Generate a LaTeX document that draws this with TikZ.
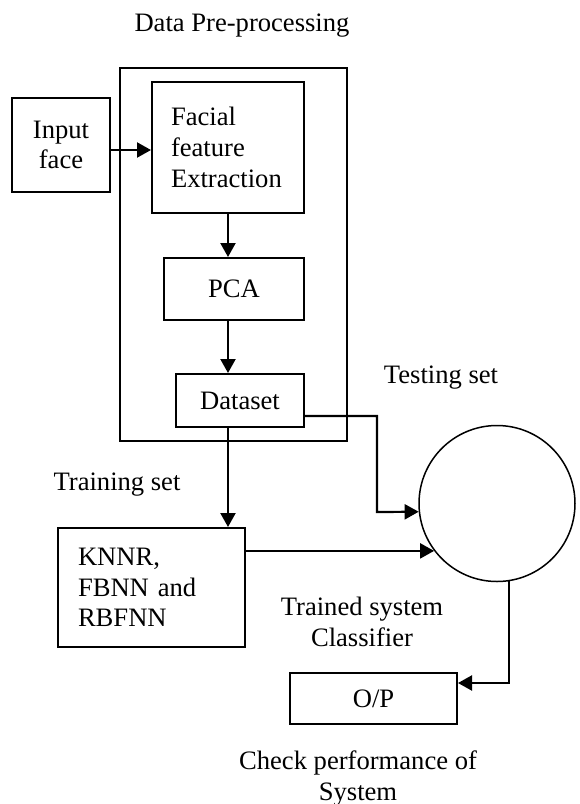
\documentclass[tikz,border=0pt]{standalone}
\usepackage{fontspec}
\setmainfont{Liberation Serif}
\usepackage{tikz}
\usetikzlibrary{arrows.meta}

\begin{document}
\begin{tikzpicture}[x=0.5pt, y=-0.5pt,
    font=\fontsize{13.3}{15.4}\selectfont,
    box/.style={draw, line width=1pt, inner sep=0pt},
    arrow/.style={-{Triangle[length=7pt,width=7.5pt]}, line width=1.1pt},
    lbl/.style={anchor=base, align=center, inner sep=0pt}]
    \useasboundingbox (0,0) rectangle (579,804);
    \node[box, minimum width=113.5pt, minimum height=186.5pt] (pre) at (233.5,254.5) {};
    \node[box, minimum width=49pt, minimum height=47pt, align=center] (inp) at (61,145) {Input\\face};
    \node[box, minimum width=76pt, minimum height=65.5pt, text width=57pt, inner xsep=9.5pt, align=left] (fe) at (228,147.5) {Facial\\feature\\Extraction};
    \node[box, minimum width=70pt, minimum height=31pt] (pca) at (234,289) {PCA};
    \node[box, minimum width=64pt, minimum height=26.5pt] (ds) at (240,400.5) {Dataset};
    \node[box, minimum width=93.5pt, minimum height=59.5pt, text width=73.5pt, inner xsep=10pt, align=left] (knn) at (151.5,587.5) {KNNR,\\FBNN and\\RBFNN};
    \node[box, minimum width=83.5pt, minimum height=25.5pt] (op) at (373.5,698.5) {O/P};
    \node[draw, circle, line width=0.75pt, minimum size=78pt, inner sep=0pt] (clf) at (497,503.5) {};
    \coordinate (tbend) at (377,512);

    \node[lbl] (title) at (242,31) {Data Pre-processing};
    \node[lbl] (test) at (441,383) {Testing set};
    \node[lbl] (train) at (117,490) {Training set};
    \node[lbl] (trained) at (362,646) {Trained system\\Classifier};
    \node[lbl] (check) at (358,800) {Check performance of\\System};

    \draw[arrow] ([yshift=-2.5pt]inp.east) -- ([yshift=-2.5pt]inp.east -| fe.west);
    \foreach \a/\b in {fe/pca, pca/ds, ds/knn}
        \draw[arrow] (fe.south |- \a.south) -- (fe.south |- \b.north);
    \draw[arrow] ([yshift=-7.75pt]ds.east) -| (tbend) -- (clf.186);
    \draw[arrow] (clf.217.5 -| knn.east) -- (clf.217.5);
    \draw[arrow] (clf.-81) |- ([yshift=7.75pt]op.east);
\end{tikzpicture}
\end{document}
